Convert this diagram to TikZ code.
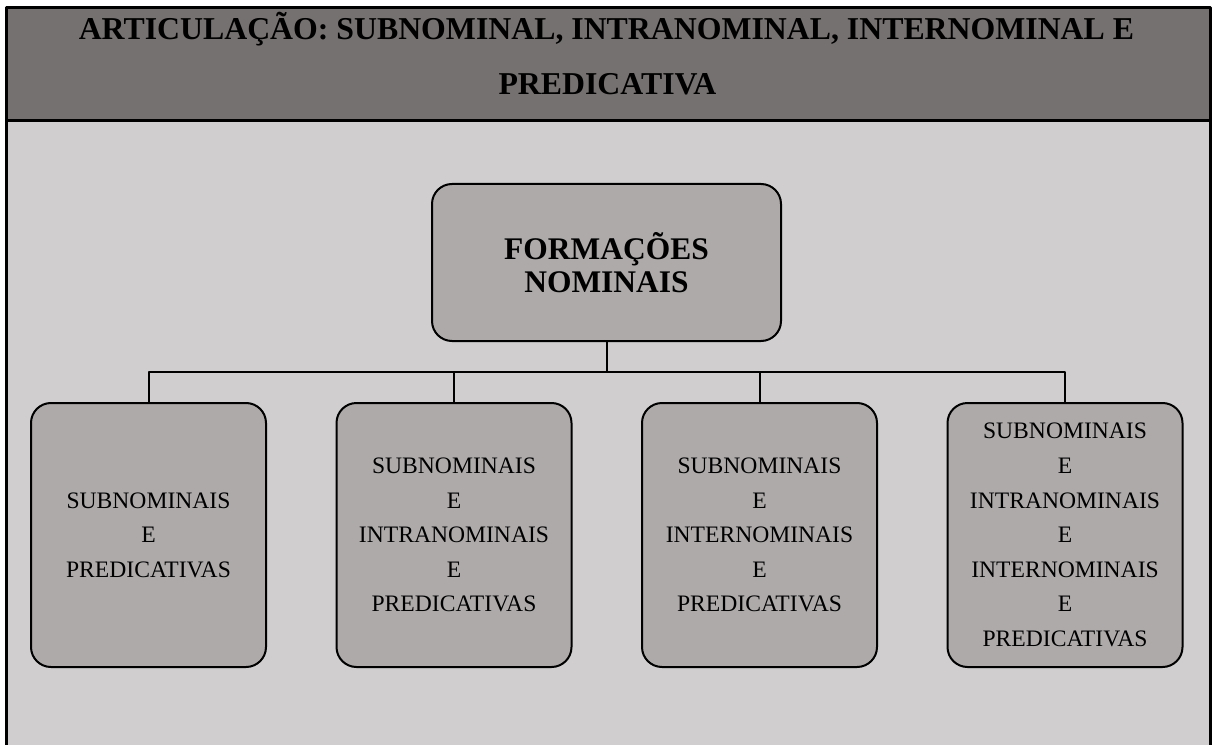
\documentclass[tikz,border=0pt]{standalone}
\usepackage{fontspec}
\setmainfont{Liberation Serif}
\definecolor{headgray}{RGB}{117,113,112}
\definecolor{bodygray}{RGB}{208,206,206}
\definecolor{boxgray}{RGB}{174,170,170}
\begin{document}
\begin{tikzpicture}[x=0.75pt, y=-0.75pt, line join=round,
  root/.style={draw, line width=1.5pt, fill=boxgray, rounded corners=15pt,
    minimum width=261.75pt, minimum height=117.75pt, align=center, inner sep=0pt,
    font=\bfseries\fontsize{23.6pt}{24.75pt}\selectfont},
  leaf/.style={draw, line width=1.5pt, fill=boxgray, rounded corners=15pt,
    minimum width=176.25pt, minimum height=198pt, align=center, inner sep=0pt,
    font=\fontsize{17.7pt}{25.95pt}\selectfont},
  head/.style={anchor=base, inner sep=0pt, font=\bfseries\fontsize{23.85pt}{24pt}\selectfont}
]
  \useasboundingbox (0,0) rectangle (1212,745);

  % frame
  \fill[bodygray] (6.5,121) rectangle (1210.5,745);
  \fill[headgray] (6.5,7.5) rectangle (1210.5,121);
  \draw[line width=2.25pt] (6.5,745) -- (6.5,7.5) -- (1210.5,7.5) -- (1210.5,745);
  \draw[line width=2.25pt] (6.5,121) -- (1210.5,121);

  \node[head] (h1) at (606.5,40) {ARTICULAÇÃO: SUBNOMINAL, INTRANOMINAL, INTERNOMINAL E};
  \node[head] (h2) at (607.5,95) {PREDICATIVA};

  % boxes
  \node[root] (top) at (606.5,262.5) {FORMAÇÕES\\NOMINAIS};

  \node[leaf] (b1) at (148.5,535) {SUBNOMINAIS\\E\\PREDICATIVAS};
  \node[leaf] (b2) at (454,535) {SUBNOMINAIS\\E\\INTRANOMINAIS\\E\\PREDICATIVAS};
  \node[leaf] (b3) at (759.5,535) {SUBNOMINAIS\\E\\INTERNOMINAIS\\E\\PREDICATIVAS};
  \node[leaf] (b4) at (1065,535) {SUBNOMINAIS\\E\\INTRANOMINAIS\\E\\INTERNOMINAIS\\E\\PREDICATIVAS};

  \coordinate (split) at (606.5,372);
  \draw[line width=1.5pt] (top) -- (split);
  \foreach \b in {b1,b2,b3,b4}
    \draw[line width=1.5pt] (split) -| (\b.north);
\end{tikzpicture}
\end{document}
